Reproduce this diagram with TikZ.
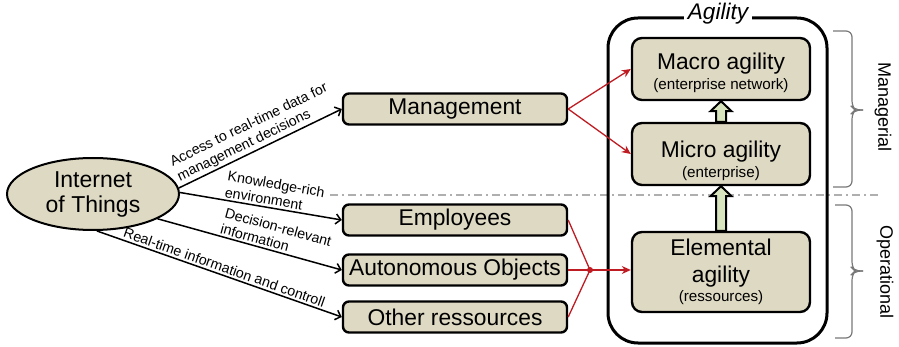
\documentclass[tikz,border=0pt]{standalone}
\usepackage{fontspec}
\setmainfont{Liberation Sans}
\usetikzlibrary{calc}
\usetikzlibrary{shapes.geometric}
\usetikzlibrary{arrows.meta}
\usepackage{xcolor}

\definecolor{tanbox}{RGB}{221,217,195}
\definecolor{greenarr}{RGB}{215,228,189}
\definecolor{redarr}{RGB}{190,28,34}
\definecolor{sepgray}{RGB}{175,175,175}
\definecolor{bracegray}{RGB}{120,120,120}

\newcommand{\sm}{\fontsize{7.6}{9}\selectfont}
% fat up arrow between two stacked boxes
\newcommand{\fatup}[2]{%
  \draw[fat] ($(#1.north)+(-5,0)$) -- ($(#2.south)+(-5,10)$) -- ($(#2.south)+(-10.5,10)$)
    -- (#2.south) -- ($(#2.south)+(10.5,10)$) -- ($(#2.south)+(5,10)$) -- ($(#1.north)+(5,0)$) -- cycle;}

\begin{document}
\begin{tikzpicture}[x=0.5pt, y=-0.5pt,
					box/.style={rectangle, draw=black, line width=1.2pt, fill=tanbox, rounded corners=3pt, minimum width=112pt, minimum height=15.5pt, inner sep=0pt, font=\fontsize{11.4}{13.6}\selectfont},
					agl/.style={box, minimum width=89pt, align=center, rounded corners=5pt},
					iot/.style={ellipse, draw=black, line width=1pt, fill=tanbox, minimum width=86pt, minimum height=36pt, inner sep=0pt, align=center, font=\fontsize{11.5}{12.5}\selectfont},
					arr/.style={-{Straight Barb[length=2.5pt, width=5pt]}, line width=0.75pt},
					redl/.style={draw=redarr, line width=0.65pt},
					reda/.style={redl, -{Stealth[length=4.5pt, width=4pt]}},
					lbl/.style={sloped, above, inner sep=1pt, align=left, font=\fontsize{7.1}{8.2}\selectfont},
					fat/.style={draw=black, line width=1pt, fill=greenarr},
					brc/.style={draw=bracegray, line width=0.6pt, rounded corners=3pt},
					side/.style={rotate=-90, font=\fontsize{9}{10}\selectfont}
					]
					\useasboundingbox (0,0) rectangle (899,347);
					
					%Divider
					\draw[sepgray, line width=1pt, dash pattern=on 4pt off 2pt on 1pt off 2pt] (330,195) -- (878,195);
					
					%Agility frame
					\draw[line width=1.5pt, rounded corners=15pt] (608,18) rectangle (827,343);
					\node[fill=white, inner xsep=2pt, inner ysep=0pt, font=\fontsize{11.3}{13}\selectfont\itshape] (agil) at (718,14) {Agility};
					
					%Nodes
					\node[iot] (iot) at (93,194) {Internet\\of Things};
					\node[box] (mgmt) at (455,109) {Management};
					\node[box] (emp)  at (455,220) {Employees};
					\node[box] (auto) at (455,270) {Autonomous Objects};
					\node[box] (oth)  at (455,317) {Other ressources};
					
					\node[agl, minimum height=31pt] (macro) at (721,69)  {\rule{0pt}{12pt}Macro agility\\[-4pt]{\sm (enterprise network)}};
					\node[agl, minimum height=31pt] (micro) at (721,154) {\rule{0pt}{15pt}Micro agility\\[-4pt]{\sm (enterprise)}};
					\node[agl, minimum height=40pt] (elem)  at (721,272) {Elemental\\agility\\[-4pt]{\sm (ressources)}};
					
					\coordinate (jn) at (590,270);
					
					%Lines
					\draw[arr] (iot.4) -- node[lbl, pos=0.5] {Access to real-time data for\\management decisions} (mgmt.west);
					\draw[arr] (iot.1) -- node[lbl, pos=0.57] {Knowledge-rich\\environment} (emp.west);
					\draw[arr] (iot.-21) -- node[lbl, pos=0.62] {Decision-relevant\\information} (auto.west);
					\draw[arr] (iot.-84) -- node[lbl, pos=0.51] {Real-time information and controll} (oth.west);
					
					\draw[reda] (mgmt.east) -- (macro.west);
					\draw[reda] (mgmt.east) -- (micro.west);
					\draw[redl] (emp.east) -- (jn);
					\draw[redl] (oth.east) -- (jn);
					\draw[redl] (auto.east) -- (jn);
					\draw[reda] (jn) -- (jn -| elem.west);
					\fill[redarr] (jn) circle (1.5pt);
					
					\fatup{micro}{macro}
					\fatup{elem}{micro}
					
					%Braces
					\draw[brc] (833,31) -- (852,31) -- (852,107) -- (855,110) -- (863,110);
					\draw[brc] (833,187) -- (852,187) -- (852,113) -- (855,110) -- (863,110);
					\draw[brc] (835,205) -- (852,205) -- (852,268) -- (855,271) -- (863,271);
					\draw[brc] (835,338) -- (852,338) -- (852,274) -- (855,271) -- (863,271);
					\node[side] (mgr) at (883,107) {Managerial};
					\node[side] (opr) at (885,272) {Operational};
				\end{tikzpicture}
\end{document}
